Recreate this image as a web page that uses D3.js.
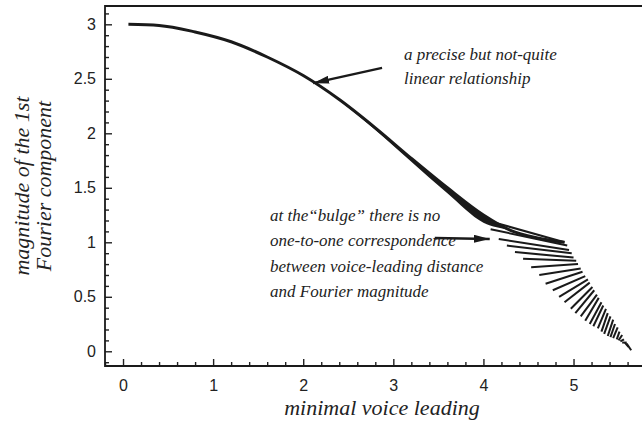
<!DOCTYPE html>
<html>
<head>
<meta charset="utf-8">
<script src="https://cdn.jsdelivr.net/npm/d3@7"></script>
<style>
  body { margin: 0; background: #fff; }
  .tick text { font-family: "Liberation Sans", Arial, sans-serif; font-size: 16px; fill: #222; }
  .tick line { stroke: #222; stroke-width: 1.4; }
  .ital { font-family: "Liberation Serif", "Times New Roman", serif; font-style: italic; fill: #222; }
</style>
</head>
<body>
<div id="chart"></div>
<script>
var svgWidth = 642;
var svgHeight = 428;

// main curve (upper edge)
var curveX = [0.06, 0.4, 0.8, 1.2, 1.6, 2.0, 2.4, 2.8, 3.2, 3.6, 4.0, 4.3, 4.6, 4.9];
var curveY = [3.0, 2.99, 2.93, 2.84, 2.70, 2.53, 2.31, 2.05, 1.77, 1.50, 1.25, 1.11, 1.04, 1.0];
// lower edge of the thick band along the curve
var bandY = [3.0, 2.99, 2.93, 2.84, 2.70, 2.53, 2.30, 2.03, 1.74, 1.45, 1.18, 1.11, 1.04, 1.0];

// fan strokes below the bulge: start (lower-left) and end (right edge)
var fanX0 = [4.00, 4.08, 4.17, 4.26, 4.35, 4.44, 4.53, 4.62, 4.69, 4.77, 4.84, 4.90, 4.97, 5.02, 5.08, 5.13, 5.18, 5.22, 5.27, 5.31, 5.34, 5.38, 5.41, 5.44, 5.48, 5.50, 5.52, 5.54, 5.57, 5.59];
var fanY0 = [1.21, 1.12, 1.03, 0.97, 0.91, 0.85, 0.77, 0.70, 0.62, 0.56, 0.50, 0.45, 0.39, 0.35, 0.32, 0.28, 0.25, 0.23, 0.21, 0.18, 0.16, 0.14, 0.13, 0.12, 0.11, 0.10, 0.09, 0.08, 0.08, 0.07];
var fanX1 = [4.90, 4.93, 4.95, 4.98, 5.00, 5.03, 5.05, 5.08, 5.10, 5.13, 5.16, 5.18, 5.21, 5.23, 5.26, 5.28, 5.31, 5.33, 5.36, 5.38, 5.41, 5.44, 5.46, 5.49, 5.51, 5.54, 5.56, 5.59, 5.61, 5.64];
var fanY1 = [1.00, 0.97, 0.93, 0.90, 0.86, 0.83, 0.80, 0.76, 0.73, 0.69, 0.66, 0.63, 0.59, 0.56, 0.52, 0.49, 0.45, 0.42, 0.39, 0.35, 0.32, 0.29, 0.25, 0.22, 0.18, 0.15, 0.11, 0.08, 0.04, 0.01];

var xMajor = [0, 1, 2, 3, 4, 5];
var yMajor = [0, 0.5, 1, 1.5, 2, 2.5, 3];
var yLabels = ["0", "0.5", "1", "1.5", "2", "2.5", "3"];

var margin = { top: 6, right: 0, bottom: 62, left: 105 };
var width = svgWidth - margin.left - margin.right;
var height = svgHeight - margin.top - margin.bottom;

var svg = d3.select("#chart")
  .append("svg")
  .attr("width", svgWidth)
  .attr("height", svgHeight);

var chart = svg.append("g")
  .attr("transform", `translate(${margin.left}, ${margin.top})`);

var x = d3.scaleLinear().domain([-0.2, 5.76]).range([0, width]);
var y = d3.scaleLinear().domain([-0.135, 3.168]).range([height, 0]);

// minor ticks
var xMinor = d3.range(-0.2, 5.75, 0.2).filter(v => Math.abs(v - Math.round(v)) > 0.01);
var yMinor = d3.range(-0.1, 3.15, 0.1).filter(v => Math.abs(v * 2 - Math.round(v * 2)) > 0.01);

chart.append("g")
  .attr("transform", `translate(0, ${height})`)
  .call(d3.axisBottom(x).tickValues(xMinor).tickSize(-4).tickFormat(""))
  .call(g => g.select(".domain").remove());
chart.append("g")
  .attr("transform", `translate(0, ${height})`)
  .call(d3.axisBottom(x).tickValues(xMajor).tickSize(-7).tickPadding(14).tickFormat(d3.format("d")))
  .call(g => g.select(".domain").remove());

chart.append("g")
  .call(d3.axisLeft(y).tickValues(yMinor).tickSize(-4).tickFormat(""))
  .call(g => g.select(".domain").remove());
chart.append("g")
  .call(d3.axisLeft(y).tickValues(yMajor).tickSize(-7).tickPadding(9).tickFormat((d, i) => yLabels[i]))
  .call(g => g.select(".domain").remove());

// frame: left, bottom, top
chart.append("path")
  .attr("d", `M${width},0H0V${height}H${width}`)
  .attr("fill", "none")
  .attr("stroke", "#1a1a1a")
  .attr("stroke-width", 1.8);

// the band along the curve
var pts = curveX.map((d, i) => ({ x: d, hi: curveY[i], lo: bandY[i] }));
chart.append("path")
  .datum(pts)
  .attr("fill", "#1a1a1a")
  .attr("d", d3.area().x(d => x(d.x)).y0(d => y(d.lo)).y1(d => y(d.hi)).curve(d3.curveMonotoneX));
chart.append("path")
  .datum(pts)
  .attr("fill", "none")
  .attr("stroke", "#1a1a1a")
  .attr("stroke-width", 3)
  .attr("d", d3.line().x(d => x(d.x)).y(d => y(d.hi)).curve(d3.curveMonotoneX));

// fan of strokes
var fan = fanX0.map((d, i) => ({ x0: d, y0: fanY0[i], x1: fanX1[i], y1: fanY1[i] }));
chart.selectAll(".fan")
  .data(fan)
  .enter()
  .append("line")
  .attr("class", "fan")
  .attr("x1", d => x(d.x0))
  .attr("y1", d => y(d.y0))
  .attr("x2", d => x(d.x1))
  .attr("y2", d => y(d.y1))
  .attr("stroke", "#1a1a1a")
  .attr("stroke-width", 2);

// arrows
svg.append("defs").append("marker")
  .attr("id", "head")
  .attr("viewBox", "0 0 16 8")
  .attr("refX", 16).attr("refY", 4)
  .attr("markerWidth", 16).attr("markerHeight", 8)
  .attr("markerUnits", "userSpaceOnUse")
  .attr("orient", "auto")
  .append("path")
  .attr("d", "M0,0L16,4L0,8Z")
  .attr("fill", "#1a1a1a");

var arrows = [
  { x0: 2.875, y0: 2.60, x1: 2.11, y1: 2.46 },
  { x0: 3.46, y0: 1.04, x1: 4.07, y1: 1.03 }
];
chart.selectAll(".arrow")
  .data(arrows)
  .enter()
  .append("line")
  .attr("class", "arrow")
  .attr("x1", d => x(d.x0))
  .attr("y1", d => y(d.y0))
  .attr("x2", d => x(d.x1))
  .attr("y2", d => y(d.y1))
  .attr("stroke", "#1a1a1a")
  .attr("stroke-width", 2.4)
  .attr("marker-end", "url(#head)");

// annotation texts
var note1 = ["a precise but not-quite", "linear relationship"];
svg.append("text")
  .attr("class", "ital")
  .attr("font-size", 17)
  .selectAll("tspan")
  .data(note1)
  .enter()
  .append("tspan")
  .attr("x", 404)
  .attr("y", (d, i) => 60 + i * 24)
  .text(d => d);

var note2 = ["at the\u201cbulge\u201d there is no", "one-to-one correspondence", "between voice-leading distance", "and Fourier magnitude"];
svg.append("text")
  .attr("class", "ital")
  .attr("font-size", 17)
  .selectAll("tspan")
  .data(note2)
  .enter()
  .append("tspan")
  .attr("x", 270)
  .attr("y", (d, i) => 221 + i * 25.3)
  .text(d => d);

// axis titles
svg.append("text")
  .attr("class", "ital")
  .attr("font-size", 22)
  .attr("text-anchor", "middle")
  .attr("x", 382)
  .attr("y", 415)
  .text("minimal voice leading");

var yTitle = ["magnitude of the 1st", "Fourier component"];
svg.append("text")
  .attr("class", "ital")
  .attr("font-size", 22)
  .attr("text-anchor", "middle")
  .attr("transform", "rotate(-90)")
  .selectAll("tspan")
  .data(yTitle)
  .enter()
  .append("tspan")
  .attr("x", -186)
  .attr("y", (d, i) => 29 + i * 22)
  .text(d => d);
</script>
</body>
</html>
